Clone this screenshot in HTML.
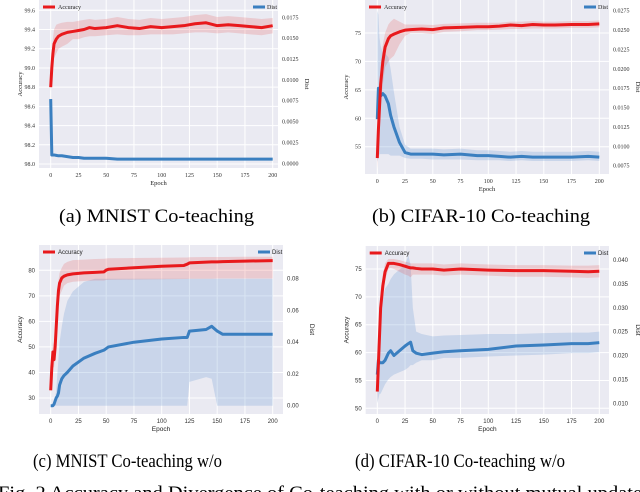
<!DOCTYPE html>
<html><head><meta charset="utf-8"><style>
html,body{margin:0;padding:0;background:#fff;width:640px;height:492px;overflow:hidden}
svg{display:block}
</style></head><body>
<svg id="fig" width="640" height="492" viewBox="0 0 640 492" xmlns="http://www.w3.org/2000/svg">
<text x="59" y="222" textLength="195" lengthAdjust="spacingAndGlyphs" font-family="Liberation Serif, serif" font-size="19">(a) MNIST Co-teaching</text>
<text x="372" y="222" textLength="218" lengthAdjust="spacingAndGlyphs" font-family="Liberation Serif, serif" font-size="19">(b) CIFAR-10 Co-teaching</text>
<text x="33" y="467" textLength="189" lengthAdjust="spacingAndGlyphs" font-family="Liberation Serif, serif" font-size="19">(c) MNIST Co-teaching w/o</text>
<text x="355" y="467" textLength="210" lengthAdjust="spacingAndGlyphs" font-family="Liberation Serif, serif" font-size="19">(d) CIFAR-10 Co-teaching w/o</text>
<text x="-2" y="499" textLength="652" lengthAdjust="spacingAndGlyphs" font-family="Liberation Serif, serif" font-size="19">Fig. 2 Accuracy and Divergence of Co-teaching with or without mutual updates</text>
</svg>
<script>
// ---- Panel A data ----
const aEpoch=[0,1,2,3,5,7,10,15,20,25,30,35,40,50,60,70,80,90,100,110,120,130,140,150,160,170,180,190,200];
const aAcc=[98.8,99.0,99.15,99.25,99.3,99.33,99.35,99.37,99.38,99.39,99.4,99.42,99.41,99.42,99.44,99.42,99.41,99.43,99.42,99.43,99.44,99.46,99.47,99.44,99.45,99.44,99.43,99.42,99.44];
const aAccLo=[98.75,98.9,99.0,99.1,99.15,99.2,99.22,99.25,99.3,99.3,99.32,99.33,99.33,99.34,99.35,99.34,99.34,99.35,99.35,99.35,99.36,99.37,99.37,99.36,99.37,99.36,99.35,99.34,99.36];
const aAccHi=[98.85,99.1,99.3,99.4,99.45,99.46,99.47,99.48,99.48,99.49,99.5,99.51,99.5,99.51,99.53,99.51,99.5,99.52,99.51,99.52,99.53,99.55,99.56,99.53,99.54,99.53,99.52,99.51,99.52];
const aDist=[0.0077,0.001,0.001,0.001,0.00095,0.0009,0.0009,0.0008,0.0007,0.0007,0.0006,0.0006,0.0006,0.0006,0.0005,0.0005,0.0005,0.0005,0.0005,0.0005,0.0005,0.0005,0.0005,0.0005,0.0005,0.0005,0.0005,0.0005,0.0005];
const aDistLo=aDist;
const aDistHi=aDist;
const aXTicks=[0,25,50,75,100,125,150,175,200];
const aYTicks=[98.0,98.2,98.4,98.6,98.8,99.0,99.2,99.4,99.6];
const aRTicks=[0,0.0025,0.005,0.0075,0.01,0.0125,0.015,0.0175];
// ---- Panel B data ----
const bEpoch=[0,1,2,3,5,7,10,12,15,20,25,30,40,50,60,75,90,100,110,120,130,140,150,160,175,190,200];
const bAcc=[53,58,62,66,70,72.5,74,74.5,74.8,75.2,75.5,75.6,75.7,75.6,75.9,76,76.1,76.1,76.2,76.4,76.3,76.5,76.4,76.4,76.5,76.5,76.6];
const bAccLo=[51,55,59,62,66,69,70,70.5,71,73,74.5,75,75,74.8,75.2,75.3,75.5,75.5,75.6,75.7,75.7,75.8,75.8,75.8,75.9,75.9,76];
const bAccHi=[55,61,65,69,73,75,76.5,77,77.5,77,76.5,76.5,76.5,76.4,76.6,76.7,76.8,76.8,76.8,77,77,77.1,77,77,77.1,77.1,77.2];
const bDist=[0.0135,0.0175,0.017,0.0165,0.0168,0.0165,0.0155,0.014,0.0125,0.0105,0.0092,0.009,0.009,0.009,0.0089,0.009,0.0088,0.0088,0.0087,0.0086,0.0087,0.0086,0.0086,0.0086,0.0086,0.0087,0.0086];
const bDistLo=[0.008,0.0085,0.009,0.009,0.009,0.009,0.009,0.0088,0.0088,0.0088,0.0085,0.0084,0.0084,0.0083,0.0083,0.0083,0.0082,0.0082,0.0082,0.0081,0.0082,0.0081,0.0081,0.0081,0.0081,0.0082,0.0081];
const bDistHi=[0.0275,0.027,0.024,0.023,0.022,0.022,0.0215,0.02,0.017,0.0125,0.0102,0.0097,0.0097,0.0097,0.0096,0.0097,0.0095,0.0095,0.0094,0.0093,0.0094,0.0093,0.0093,0.0093,0.0093,0.0094,0.0093];
const bXTicks=[0,25,50,75,100,125,150,175,200];
const bYTicks=[55,60,65,70,75];
const bRTicks=[0.0075,0.01,0.0125,0.015,0.0175,0.02,0.0225,0.025,0.0275];
// ---- Panel C data ----
const cEpoch=[0,1,2,3,4,5,6,7,8,10,12,15,20,30,40,48,50,52,75,100,120,123,125,140,145,150,155,175,200];
const cAcc=[33,42,48,45,50,58,66,72,75,77,77.7,78.2,78.6,79,79.2,79.4,80.1,80.4,81,81.6,81.9,82.4,82.9,83.2,83.3,83.3,83.4,83.6,83.8];
const cAccLo=[31,38,42,42,46,52,60,67,70,72,74,75,75.5,75.8,76,76,76.2,76.3,76.4,76.5,76.6,76.6,76.7,76.7,76.7,76.8,76.8,76.8,76.8];
const cAccHi=[35,46,52,50,54,63,71,76,79,81,82.5,83.3,84,84.2,84.4,84.5,84.6,84.7,84.8,84.9,85,85,85.1,85.2,85.2,85.2,85.2,85.3,85.3];
const cDist=[0,0,0,0.001,0.003,0.005,0.006,0.008,0.013,0.017,0.019,0.021,0.025,0.03,0.033,0.035,0.036,0.037,0.04,0.042,0.043,0.043,0.047,0.048,0.05,0.047,0.045,0.045,0.045];
const cDistLo=[0,0,0,0,0,0,0,0,0,0,0,0,0,0,0,0,0,0,0,0,0,0,0.015,0.018,0.017,0,0,0,0];
const cDistHi=[0,0,0,0.002,0.005,0.01,0.02,0.03,0.04,0.05,0.058,0.066,0.072,0.078,0.08,0.08,0.08,0.08,0.08,0.08,0.08,0.08,0.08,0.08,0.08,0.08,0.08,0.08,0.08];
const cXTicks=[0,25,50,75,100,125,150,175,200];
const cYTicks=[30,40,50,60,70,80];
const cRTicks=[0,0.02,0.04,0.06,0.08];
// ---- Panel D data ----
const dEpoch=[0,1,2,3,5,7,10,12,15,20,25,28,30,32,35,40,50,60,75,100,125,150,175,190,200];
const dAcc=[53,58,63,68,72,74.5,76,76,76,75.8,75.5,75.3,75.2,75.2,75.1,75,75,74.8,75,74.8,74.7,74.7,74.6,74.5,74.6];
const dAccLo=[51,55,60,65,70,73,75,75.2,75,74.5,74,73.8,73.5,74,74,74,74,73.8,74,73.8,73.6,73.6,73.5,73.4,73.5];
const dAccHi=[55,61,66,71,74,76,76.8,76.8,76.8,76.6,76.3,76.2,76,76,76,76,76,75.8,76,75.8,75.7,75.7,75.6,75.6,75.7];
const dDist=[0.016,0.019,0.0185,0.0185,0.0185,0.019,0.0205,0.021,0.020,0.021,0.022,0.0225,0.0228,0.021,0.0205,0.0202,0.0205,0.0208,0.021,0.0213,0.022,0.0222,0.0225,0.0225,0.0227];
const dDistLo=[0.010,0.011,0.012,0.012,0.013,0.014,0.015,0.0155,0.016,0.0165,0.017,0.0175,0.018,0.018,0.0185,0.019,0.019,0.0195,0.0195,0.0198,0.02,0.0202,0.0205,0.0205,0.0207];
const dDistHi=[0.022,0.026,0.028,0.030,0.032,0.034,0.035,0.036,0.037,0.038,0.039,0.041,0.039,0.03,0.025,0.0245,0.024,0.0242,0.0243,0.0245,0.0245,0.0247,0.0248,0.0248,0.025];
const dXTicks=[0,25,50,75,100,125,150,175,200];
const dYTicks=[50,55,60,65,70,75];
const dRTicks=[0.01,0.015,0.02,0.025,0.03,0.035,0.04];

const NS='http://www.w3.org/2000/svg';
const svg=document.getElementById('fig');
function mk(tag,attrs,parent){const e=document.createElementNS(NS,tag);for(const k in attrs)e.setAttribute(k,attrs[k]);(parent||svg).appendChild(e);return e;}
function lin(d0,d1,r0,r1){return v=>r0+(v-d0)*(r1-r0)/(d1-d0);}

function panel(id,box,xm,ym,rm,serif,ep,acc,accLo,accHi,dist,dLo,dHi,xt,yt,rt,yfmt,rfmt){
  const g=mk('g',{});
  
  
  const font=serif?'Liberation Serif, serif':'Liberation Sans, sans-serif';
  const bg=mk('rect',{x:box[0],y:box[1],width:box[2]-box[0],height:box[3]-box[1],fill:'#eaeaf2'},g);
  
  
  const X=lin(xm[0],xm[1],xm[2],xm[3]),Y=lin(ym[0],ym[1],ym[2],ym[3]),R=lin(rm[0],rm[1],rm[2],rm[3]);
  xt.forEach(t=>{
    mk('line',{x1:X(t),x2:X(t),y1:box[1],y2:box[3],stroke:'#fff','stroke-width':1},g);
    const tx=mk('text',{x:X(t),y:box[3]+9,'text-anchor':'middle','font-family':font,'font-size':6,fill:'#333'},g);
    tx.textContent=t;
    
    
  });
  yt.forEach(t=>{
    mk('line',{x1:box[0],x2:box[2],y1:Y(t),y2:Y(t),stroke:'#fff','stroke-width':1},g);
    const tx=mk('text',{x:box[0]-4,y:Y(t)+2,'text-anchor':'end','font-family':font,'font-size':6,fill:'#333'},g);
    tx.textContent=yfmt(t);
    
    
  });
  rt.forEach(t=>{
    const tx=mk('text',{x:box[2]+4,y:R(t)+2,'font-family':font,'font-size':6,fill:'#333'},g);
    tx.textContent=rfmt(t);
    
    
  });
  function band(lo,hi,S,col,op,name){
    let d='M'+ep.map((e,i)=>X(e)+','+S(hi[i])).join('L');
    for(let i=ep.length-1;i>=0;i--)d+='L'+X(ep[i])+','+S(lo[i]);
    const p=mk('path',{d:d+'Z',fill:col,'fill-opacity':op,stroke:'none'},g);
    
    
  }
  function line(v,S,col,name){
    const p=mk('path',{d:'M'+ep.map((e,i)=>X(e)+','+S(v[i])).join('L'),fill:'none',stroke:col,'stroke-width':3,'stroke-linejoin':'round'},g);
    
    
  }
  band(dLo,dHi,R,'#7fa6d6',0.3,'dist-band');
  band(accLo,accHi,Y,'#e84a4a',0.2,'accuracy-band');
  line(dist,R,'#3a7fc0','dist-line');
  line(acc,Y,'#e8191c','accuracy-line');
  const cx=(box[0]+box[2])/2;
  const xl=mk('text',{x:cx,y:box[3]+17,'text-anchor':'middle','font-family':font,'font-size':6.5,fill:'#222'},g);
  xl.textContent='Epoch';
  
  
  const cy=(box[1]+box[3])/2;
  const yl=mk('text',{x:box[0]-17,y:cy,'text-anchor':'middle','font-family':font,'font-size':6.5,fill:'#222',transform:`rotate(-90 ${box[0]-17} ${cy})`},g);
  yl.textContent='Accuracy';
  
  
  const rx=box[2]+27;
  const rl=mk('text',{x:rx,y:cy,'text-anchor':'middle','font-family':font,'font-size':6.5,fill:'#222',transform:`rotate(90 ${rx} ${cy})`},g);
  rl.textContent='Dist';
  
  
  const ly=box[1]+7;
  const l1=mk('line',{x1:box[0]+4,x2:box[0]+16,y1:ly,y2:ly,stroke:'#e8191c','stroke-width':3},g);
  
  
  const t1=mk('text',{x:box[0]+19,y:ly+2,'font-family':font,'font-size':6,fill:'#222'},g);
  t1.textContent='Accuracy';
  
  
  const l2=mk('line',{x1:box[2]-25,x2:box[2]-13,y1:ly,y2:ly,stroke:'#3a7fc0','stroke-width':3},g);
  
  
  const t2=mk('text',{x:box[2]-11,y:ly+2,'font-family':font,'font-size':6,fill:'#222'},g);
  t2.textContent='Dist';
  
  
}
const f1=v=>v.toFixed(1),f0=v=>String(v),f4=v=>v.toFixed(4),f3=v=>v.toFixed(3),f2=v=>v.toFixed(2);
panel('a',[39,0,278,168],[0,200,50.7,272.7],[99.6,98.0,10.3,164],[0.0175,0,17.3,163.3],true,aEpoch,aAcc,aAccLo,aAccHi,aDist,aDistLo,aDistHi,aXTicks,aYTicks,aRTicks,f1,f4);
panel('b',[365,0,609,174],[0,200,377.3,599.3],[75,55,33,146.7],[0.0275,0.0075,10.7,165.7],true,bEpoch,bAcc,bAccLo,bAccHi,bDist,bDistLo,bDistHi,bXTicks,bYTicks,bRTicks,f0,f4);
panel('c',[39,245,283,414],[0,200,50.7,272.7],[80,30,270.3,398],[0.08,0,278.7,405.7],false,cEpoch,cAcc,cAccLo,cAccHi,cDist,cDistLo,cDistHi,cXTicks,cYTicks,cRTicks,f0,f2);
panel('d',[365.7,246,609,414],[0,200,377.3,599.3],[75,50,269,408.3],[0.04,0.01,260,403.3],false,dEpoch,dAcc,dAccLo,dAccHi,dDist,dDistLo,dDistHi,dXTicks,dYTicks,dRTicks,f0,f3);
</script>
</body></html>
